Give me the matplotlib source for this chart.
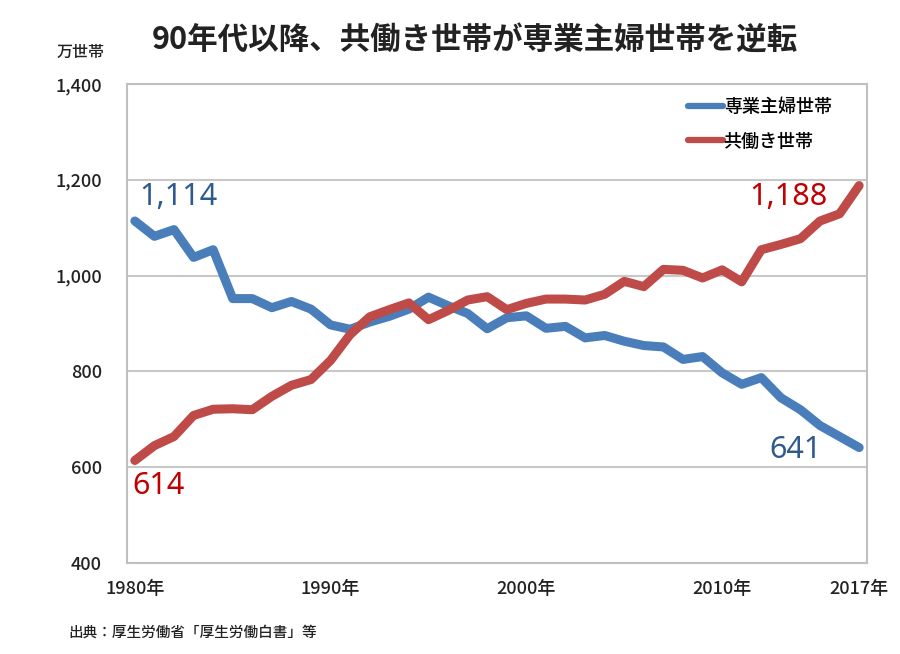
import matplotlib
matplotlib.use("Agg")
import matplotlib.pyplot as plt

plt.rcParams['font.family'] = ['Noto Sans CJK JP', 'DejaVu Sans']

years = list(range(1980, 2018))
housewife = [1114, 1082, 1096, 1038, 1054, 952, 952, 933, 946, 930,
             897, 888, 903, 915, 930, 955, 937, 921, 889, 912,
             916, 890, 894, 870, 875, 863, 854, 851, 825, 831,
             797, 773, 787, 745, 720, 687, 664, 641]
dual = [614, 645, 664, 708, 721, 722, 720, 748, 771, 783,
        823, 877, 914, 929, 943, 908, 927, 949, 956, 929,
        942, 951, 951, 949, 961, 988, 977, 1013, 1011, 995,
        1012, 987, 1054, 1065, 1077, 1114, 1129, 1188]
series_names = ["専業主婦世帯", "共働き世帯"]
xtick_years = [1980, 1990, 2000, 2010, 2017]
xtick_labels = ["1980年", "1990年", "2000年", "2010年", "2017年"]
yticks = [400, 600, 800, 1000, 1200, 1400]

blue = "#4a7ebb"
red = "#be4b48"
blue_txt = "#2e5a8e"
red_txt = "#c00000"

fig = plt.figure(figsize=(9, 6.54), dpi=100)
ax = fig.add_axes([127/900, 1-563/654, 740/900, 479/654])

ax.plot(years, housewife, color=blue, lw=6.5, solid_joinstyle='round', solid_capstyle='round', label=series_names[0])
ax.plot(years, dual, color=red, lw=6.5, solid_joinstyle='round', solid_capstyle='round', label=series_names[1])

ax.set_xlim(1979.6, 2017.4)
ax.set_ylim(400, 1400)
ax.set_yticks(yticks)
ax.set_yticklabels([f"{v:,}" for v in yticks], fontsize=13, fontweight='medium', color='#222222')
ax.set_xticks(xtick_years)
ax.set_xticklabels(xtick_labels, fontsize=13, fontweight='medium', color='#222222')
ax.tick_params(axis='y', length=0, pad=18)
ax.tick_params(axis='x', length=0, pad=12)
ax.grid(axis='y', color='#c8c8c8', lw=1.5)
ax.set_axisbelow(True)
for s in ax.spines.values():
    s.set_color('#c0c0c0')
    s.set_linewidth(1.5)

num_font = dict(family=['Noto Sans', 'DejaVu Sans'], fontsize=22, fontweight='medium')
ax.text(1980.25, 1164, f"{housewife[0]:,}", color=blue_txt, ha='left', va='center', **num_font)
ax.text(2015.4, 1164, f"{dual[-1]:,}", color=red_txt, ha='right', va='center', **num_font)
ax.text(1979.9, 560, f"{dual[0]:,}", color=red_txt, ha='left', va='center', **num_font)
ax.text(2015.1, 636, f"{housewife[-1]:,}", color=blue_txt, ha='right', va='center', **num_font)

leg = ax.legend(loc='upper right', bbox_to_anchor=(0.962, 0.985), frameon=False, borderaxespad=0,
                prop=dict(family=['Noto Sans CJK JP'], size=13, weight='medium'),
                handlelength=1.95, labelspacing=0.9, handletextpad=0.05)
for h in leg.get_lines():
    h.set_linewidth(4.5)

fig.text(475/900, 1-40/654, "90年代以降、共働き世帯が専業主婦世帯を逆転", fontsize=22, fontweight='bold',
         ha='center', va='center', color='#222222')
fig.text(81/900, 1-52/654, "万世帯", fontsize=11.5, fontweight='medium', ha='center', va='center', color='#222222')
fig.text(68/900, 1-633/654, "出典：厚生労働省「厚生労働白書」等", fontsize=10.5, fontweight='medium', ha='left', va='center', color='#222222')

fig.savefig("out.png", dpi=100)
